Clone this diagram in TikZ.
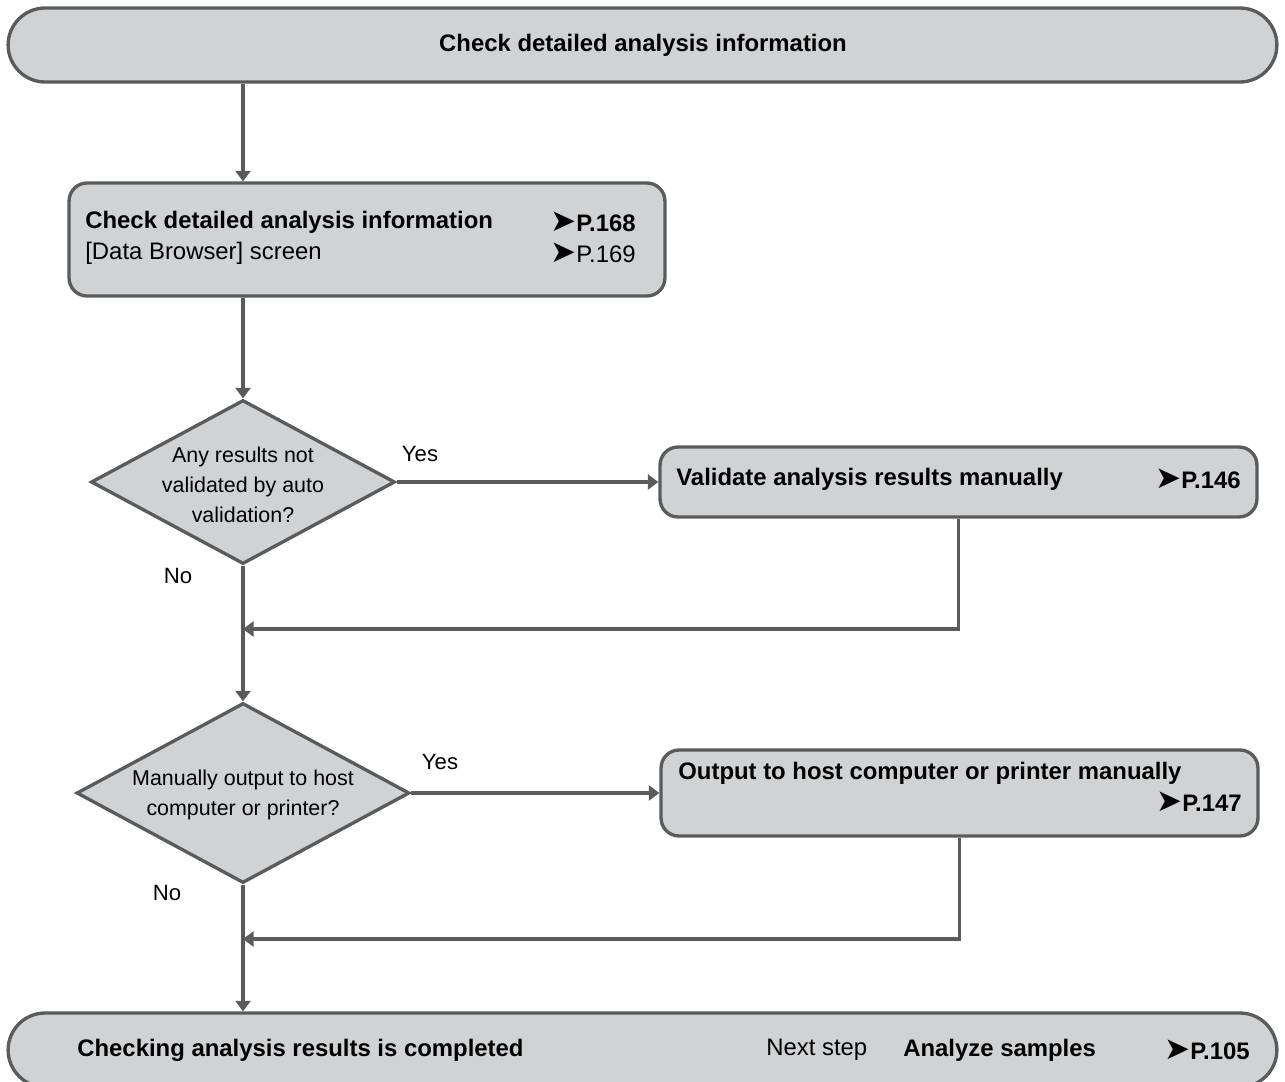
\documentclass[tikz,border=0pt]{standalone}
\usepackage{fontspec}
\setmainfont{Liberation Sans}
\newfontfamily\symf{DejaVu Sans}
\usetikzlibrary{shapes.geometric,arrows.meta}
\newcommand\pref{{\symf\scalebox{1.3}{➤}}}
\definecolor{boxfill}{HTML}{D1D2D4}
\definecolor{linec}{HTML}{5A5B5D}
\tikzset{
  term/.style={draw=linec, fill=boxfill, line width=1.9pt, rounded corners=0.74cm,
    minimum width=25.38cm, minimum height=1.48cm, inner sep=0pt},
  procbox/.style={draw=linec, fill=boxfill, line width=1.9pt, rounded corners=0.36cm, inner sep=0pt},
  decide/.style={diamond, draw=linec, fill=boxfill, line width=1.9pt, inner sep=0pt},
  txt/.style={inner sep=0pt, font=\fontsize{13.6pt}{17.5pt}\selectfont},
  btxt/.style={txt, font=\fontsize{13.6pt}{17.5pt}\selectfont\bfseries},
  qtxt/.style={inner sep=0pt, align=center, font=\fontsize{12.2pt}{17pt}\selectfont},
  lbl/.style={inner sep=0pt, font=\fontsize{12.6pt}{15pt}\selectfont},
  conn/.style={draw=linec, line width=2.2pt},
  arr/.style={conn, -{Triangle[width=8.5pt,length=6pt]}}
}
\begin{document}
\begin{tikzpicture}[x=0.02cm,y=-0.02cm]
\clip (0,0) rectangle (1285,1082);
\fill[white] (0,0) rectangle (1285,1082);

% shapes
\node[term] (top) at (642.5,45) {};
\node[procbox, minimum width=11.92cm, minimum height=2.26cm] (box1) at (367,239.5) {};
\node[decide, minimum width=6.08cm, minimum height=3.28cm] (d1) at (243,482) {};
\node[procbox, minimum width=11.94cm, minimum height=1.4cm] (box2) at (958.5,482) {};
\node[decide, minimum width=6.66cm, minimum height=3.6cm] (d2) at (243,793) {};
\node[procbox, minimum width=11.94cm, minimum height=1.72cm] (box3) at (959.5,793) {};
\node[term] (bottom) at (642.5,1050) {};

\coordinate (j1) at (243,629);
\coordinate (j2) at (243,939);

% texts
\node[btxt] (toptxt) at (643,45) {Check detailed analysis information};
\node[btxt, anchor=west] (b1a) at (85,222) {Check detailed analysis information};
\node[txt, anchor=west] (b1b) at (85,253) {[Data Browser] screen};
\node[btxt, anchor=east] (b1r1) at (636,222) {\pref P.168};
\node[txt, anchor=east] (b1r2) at (636,253) {\pref P.169};

\node[qtxt] (q1) at (243,485) {Any results not\\validated by auto\\validation?};
\node[qtxt] (q2) at (243,795) {Manually output to host\\computer or printer?};

\node[lbl] (yes1) at (420,454) {Yes};
\node[lbl] (no1) at (178,576) {No};
\node[lbl] (yes2) at (440,762) {Yes};
\node[lbl] (no2) at (167,893) {No};

\node[btxt, anchor=west] (b2t) at (676,479) {Validate analysis results manually};
\node[btxt, anchor=east] (b2r) at (1241,479) {\pref P.146};

\node[btxt, anchor=west] (b3t) at (678,773) {Output to host computer or printer manually};
\node[btxt, anchor=east] (b3r) at (1242,802) {\pref P.147};

\node[btxt, anchor=west] (bt1) at (77,1050) {Checking analysis results is completed};
\node[txt, anchor=west] (bt2) at (766,1050) {Next step};
\node[btxt, anchor=west] (bt3) at (903,1050) {Analyze samples};
\node[btxt, anchor=east] (bt4) at (1250,1050) {\pref P.105};

% connectors
\draw[arr] (top.south -| d1.north) -- (d1.north |- box1.north);
\draw[arr] (box1.south -| d1.north) -- (d1.north);
\draw[arr] (d1.east) -- (box2.west);
\draw[conn] (d1.south) -- (j1);
\draw[arr] (box2.south) |- (j1);
\draw[arr] (j1) -- (d2.north);
\draw[arr] (d2.east) -- (box3.west);
\draw[conn] (d2.south) -- (j2);
\draw[arr] (box3.south) |- (j2);
\draw[arr] (j2) -- (j2 |- bottom.north);
\end{tikzpicture}
\end{document}
